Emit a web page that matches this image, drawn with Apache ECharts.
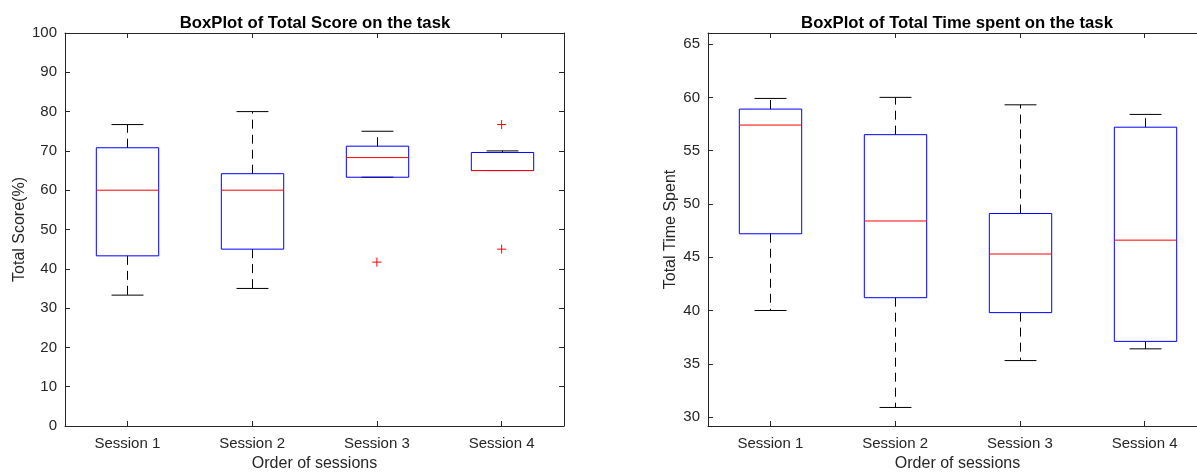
<!DOCTYPE html>
<html>
<head>
<meta charset="utf-8">
<script src="https://cdn.jsdelivr.net/npm/echarts@6/dist/echarts.min.js"></script>
<style>
html,body{margin:0;padding:0;background:#fff;}
#chart{width:1197px;height:473px;}
</style>
</head>
<body>
<div id="chart"></div>
<script>
// ---- Data ----
const categories = ['Session 1', 'Session 2', 'Session 3', 'Session 4'];

// Total Score (%)
const scoreLowerWhisker = [33.3, 35.0, 63.3, 65.0];
const scoreQ1           = [43.3, 45.0, 63.3, 65.0];
const scoreMedian       = [60.0, 60.0, 68.3, 65.0];
const scoreQ3           = [70.8, 64.2, 71.2, 69.6];
const scoreUpperWhisker = [76.7, 80.0, 75.0, 70.0];
const scoreOutlierSession = ['Session 3', 'Session 4', 'Session 4'];
const scoreOutlierValue   = [41.7, 76.7, 45.0];

// Total Time Spent
const timeLowerWhisker = [40.0, 30.9, 35.3, 36.4];
const timeQ1           = [47.2, 41.2, 39.8, 37.1];
const timeMedian       = [57.4, 48.4, 45.3, 46.6];
const timeQ3           = [58.9, 56.5, 49.1, 57.2];
const timeUpperWhisker = [59.9, 60.0, 59.3, 58.4];

const scoreTicks = [0, 10, 20, 30, 40, 50, 60, 70, 80, 90, 100];
const timeTicks = [30, 35, 40, 45, 50, 55, 60, 65];

// ---- Build ----
function boxData(lo, q1, med, q3, hi) {
  return categories.map((c, i) => [c, lo[i], q1[i], med[i], q3[i], hi[i]]);
}

const FONT = 'Liberation Sans';
const AX = '#262626';

function renderBox(params, api) {
  const x = api.value(0);
  const band = api.size([1, 0])[0];
  const boxW = band * 0.5, capW = band * 0.256;
  const pLo = api.coord([x, api.value(1)]);
  const pQ1 = api.coord([x, api.value(2)]);
  const pMed = api.coord([x, api.value(3)]);
  const pQ3 = api.coord([x, api.value(4)]);
  const pHi = api.coord([x, api.value(5)]);
  const cx = Math.round(pQ1[0]) + 0.5;
  const l = cx - boxW / 2, r = cx + boxW / 2;
  const dash = {stroke: '#000', lineWidth: 1, lineDash: [9, 6]};
  const solid = {stroke: '#000', lineWidth: 1};
  const children = [];
  if (pHi[1] < pQ3[1] - 0.5) {
    children.push({type: 'line', shape: {x1: cx, y1: pQ3[1], x2: cx, y2: pHi[1]}, style: dash});
  }
  if (pLo[1] > pQ1[1] + 0.5) {
    children.push({type: 'line', shape: {x1: cx, y1: pQ1[1], x2: cx, y2: pLo[1]}, style: dash});
  }
  children.push({type: 'line', shape: {x1: cx - capW / 2, y1: pHi[1], x2: cx + capW / 2, y2: pHi[1]}, style: solid});
  children.push({type: 'line', shape: {x1: cx - capW / 2, y1: pLo[1], x2: cx + capW / 2, y2: pLo[1]}, style: solid});
  children.push({type: 'rect', shape: {x: l, y: pQ3[1], width: boxW, height: pQ1[1] - pQ3[1]},
    style: {fill: 'none', stroke: '#0000ff', lineWidth: 1}});
  children.push({type: 'line', shape: {x1: l, y1: pMed[1], x2: r, y2: pMed[1]}, style: {stroke: '#ff0000', lineWidth: 1}});
  return {type: 'group', children};
}

function renderPlus(params, api) {
  const p = api.coord([api.value(0), api.value(1)]);
  const s = 4.5;
  const st = {stroke: '#ff0000', lineWidth: 1};
  return {type: 'group', children: [
    {type: 'line', shape: {x1: p[0] - s, y1: p[1], x2: p[0] + s, y2: p[1]}, style: st},
    {type: 'line', shape: {x1: p[0], y1: p[1] - s, x2: p[0], y2: p[1] + s}, style: st}
  ]};
}

function xAxes(gridIndex) {
  return [
    {type: 'category', gridIndex, data: categories, position: 'bottom',
     name: 'Order of sessions', nameLocation: 'middle', nameGap: 30,
     nameTextStyle: {fontFamily: FONT, fontSize: 16, color: AX},
     axisLine: {onZero: false, lineStyle: {color: AX, width: 1}},
     axisTick: {show: true, inside: true, alignWithLabel: true, length: 5, lineStyle: {color: AX}},
     axisLabel: {fontFamily: FONT, fontSize: 15, color: AX, margin: 10},
     splitLine: {show: false}},
    {type: 'category', gridIndex, data: categories, position: 'top',
     axisLine: {show: true, onZero: false, lineStyle: {color: AX, width: 1}},
     axisTick: {show: true, inside: true, alignWithLabel: true, length: 5, lineStyle: {color: AX}},
     axisLabel: {show: false}, splitLine: {show: false}}
  ];
}

function yAxes(gridIndex, min, max, ticks, name, gap, showRight) {
  return [
    {type: 'value', gridIndex, min, max, position: 'left',
     name, nameLocation: 'middle', nameGap: gap,
     nameTextStyle: {fontFamily: FONT, fontSize: 16, color: AX},
     axisLine: {show: true, onZero: false, lineStyle: {color: AX, width: 1}},
     axisTick: {show: true, inside: true, length: 5, customValues: ticks, lineStyle: {color: AX}},
     axisLabel: {fontFamily: FONT, fontSize: 15, color: AX, margin: 8, customValues: ticks},
     splitLine: {show: false}},
    {type: 'value', gridIndex, min, max, position: 'right', show: showRight,
     axisLine: {show: true, onZero: false, lineStyle: {color: AX, width: 1}},
     axisTick: {show: true, inside: true, length: 5, customValues: ticks, lineStyle: {color: AX}},
     axisLabel: {show: false}, splitLine: {show: false}}
  ];
}

const chart = echarts.init(document.getElementById('chart'), null, {renderer: 'canvas'});
chart.setOption({
  backgroundColor: '#ffffff',
  animation: false,
  title: [
    {text: 'BoxPlot of Total Score on the task', left: 310, top: 10, textAlign: 'center',
     textStyle: {fontFamily: FONT, fontSize: 16.7, fontWeight: 'bold', color: '#000'}},
    {text: 'BoxPlot of Total Time spent on the task', left: 952, top: 10, textAlign: 'center',
     textStyle: {fontFamily: FONT, fontSize: 16.7, fontWeight: 'bold', color: '#000'}}
  ],
  grid: [
    {left: 65, top: 33, width: 499, height: 393, outerBoundsMode: 'none', containLabel: false},
    {left: 708, top: 33, width: 499, height: 393, outerBoundsMode: 'none', containLabel: false}
  ],
  xAxis: [...xAxes(0), ...xAxes(1)],
  yAxis: [
    ...yAxes(0, 0, 100, scoreTicks, 'Total Score(%)', 37, true),
    ...yAxes(1, 29.16, 66.04, timeTicks, 'Total Time Spent', 29, false)
  ],
  series: [
    {type: 'custom', xAxisIndex: 0, yAxisIndex: 0, renderItem: renderBox,
     encode: {x: 0, y: [1, 2, 3, 4, 5]},
     data: boxData(scoreLowerWhisker, scoreQ1, scoreMedian, scoreQ3, scoreUpperWhisker)},
    {type: 'custom', xAxisIndex: 0, yAxisIndex: 0, renderItem: renderPlus,
     encode: {x: 0, y: 1},
     data: scoreOutlierSession.map((s, i) => [s, scoreOutlierValue[i]])},
    {type: 'custom', xAxisIndex: 2, yAxisIndex: 2, renderItem: renderBox,
     encode: {x: 0, y: [1, 2, 3, 4, 5]},
     data: boxData(timeLowerWhisker, timeQ1, timeMedian, timeQ3, timeUpperWhisker)}
  ]
});
</script>
</body>
</html>
